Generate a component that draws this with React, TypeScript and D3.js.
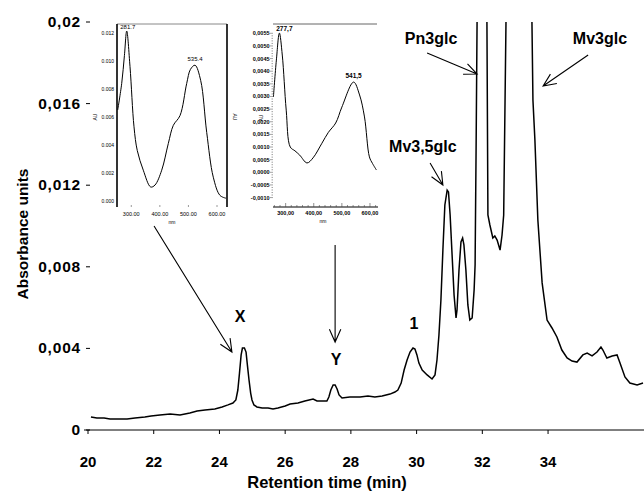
import React from "react";
import * as d3 from "d3";

// chromatogram (retention time in min, absorbance units)
const times = [
  20.09, 20.27, 20.49, 20.67, 20.91, 21.19, 21.43, 21.73, 21.92, 22.19, 22.5, 22.8, 23.1, 23.32,
  23.56, 23.86, 24.08, 24.26, 24.41, 24.5, 24.56, 24.61, 24.66, 24.7, 24.76, 24.81, 24.85, 24.9,
  24.95, 24.99, 25.05, 25.14, 25.3, 25.48, 25.63, 25.78, 26.0, 26.15, 26.39, 26.6, 26.85, 26.97,
  27.12, 27.27, 27.33, 27.39, 27.46, 27.52, 27.58, 27.64, 27.73, 27.97, 28.28, 28.52, 28.73, 28.95,
  29.19, 29.34, 29.43, 29.53, 29.62, 29.71, 29.8, 29.89, 29.95, 30.01, 30.07, 30.17, 30.32, 30.47,
  30.56, 30.62, 30.68, 30.74, 30.8, 30.86, 30.93, 30.97, 31.02, 31.08, 31.14, 31.2, 31.23, 31.29,
  31.35, 31.4, 31.44, 31.5, 31.56, 31.62, 31.69, 31.75, 31.78, 31.81, 31.84, 31.99, 32.14, 32.17,
  32.23, 32.32, 32.38, 32.45, 32.54, 32.6, 32.65, 32.72, 33.12, 33.51, 33.54, 33.6, 33.69, 33.82,
  33.97, 34.12, 34.27, 34.42, 34.58, 34.73, 34.88, 35.06, 35.19, 35.34, 35.49, 35.61, 35.67, 35.79,
  35.95, 36.1, 36.19, 36.34, 36.49, 36.71, 36.89,
];
const absorb = [
  0.00064, 0.00059, 0.00059, 0.00054, 0.00054, 0.00054, 0.00059, 0.00064, 0.00069, 0.00074, 0.00078,
  0.00074, 0.00083, 0.00093, 0.00098, 0.00103, 0.00113, 0.00123, 0.00132, 0.00147, 0.00196, 0.00279,
  0.00368, 0.00402, 0.00402, 0.00382, 0.00319, 0.00245, 0.00181, 0.00147, 0.00123, 0.00113, 0.00108,
  0.00108, 0.00103, 0.00108, 0.00118, 0.00127, 0.00132, 0.00142, 0.00152, 0.00142, 0.00142, 0.00142,
  0.00162, 0.00196, 0.00221, 0.00221, 0.00201, 0.00172, 0.00157, 0.00162, 0.00162, 0.00167, 0.00162,
  0.00167, 0.00176, 0.00186, 0.00196, 0.0023, 0.00294, 0.00343, 0.00382, 0.00402, 0.00397, 0.00368,
  0.00328, 0.00294, 0.0027, 0.0025, 0.0027, 0.00343, 0.00466, 0.00637, 0.00882, 0.01103, 0.01176,
  0.01167, 0.01054, 0.00858, 0.00662, 0.00549, 0.00588, 0.00784, 0.00922, 0.00941, 0.00907, 0.00784,
  0.00613, 0.00539, 0.00549, 0.00686, 0.00809, 0.01373, 0.02, 0.045, 0.02, 0.01054, 0.01005, 0.00941,
  0.00951, 0.00931, 0.00882, 0.00956, 0.01054, 0.02, 0.09, 0.02, 0.01618, 0.01422, 0.01029, 0.00721,
  0.00539, 0.005, 0.00456, 0.00392, 0.00353, 0.00338, 0.00333, 0.00368, 0.00377, 0.00363, 0.00382,
  0.00407, 0.00392, 0.00353, 0.00363, 0.00368, 0.00328, 0.0026, 0.0023, 0.00221, 0.0023,
];
const xTicks = [20, 22, 24, 26, 28, 30, 32, 34];
const yTicks = [0, 0.004, 0.008, 0.012, 0.016, 0.02];
const yTickLabels = ["0", "0,004", "0,008", "0,012", "0,016", "0,02"];

// UV-Vis spectrum of peak X
const spec1Nm = [252.5, 266.5, 276, 284, 295.5, 309.5, 321, 342, 368, 383, 406.5, 429.5, 447, 470.5, 494, 507, 523, 543, 564, 587, 610.5, 631.5];
const spec1Au = [0.0065, 0.0084, 0.0104, 0.01214, 0.0096, 0.0053, 0.0036, 0.0022, 0.001, 0.00114, 0.0022, 0.0041, 0.0054, 0.0061, 0.0084, 0.0094, 0.0097, 0.0086, 0.0049, 0.0017, 0.0004, 0.0002];
const spec1YTicks = [0, 0.002, 0.004, 0.006, 0.008, 0.01, 0.012];
const spec1XTicks = [300, 400, 500, 600];

// UV-Vis spectrum of peak Y
const spec2Nm = [256.5, 267, 277.7, 288, 302, 316.4, 333, 350, 376, 397.4, 429, 452, 478, 500, 541.8, 563, 580.5, 598, 609, 623];
const spec2Au = [0.00298, 0.00444, 0.00551, 0.00464, 0.00246, 0.001, 0.00085, 0.00068, 0.00037, 0.00057, 0.00115, 0.00158, 0.00195, 0.00258, 0.00357, 0.00306, 0.00219, 0.00061, 0.00035, 0.00009];
const spec2YTicks = [-0.001, -0.0005, 0, 0.0005, 0.001, 0.0015, 0.002, 0.0025, 0.003, 0.0035, 0.004, 0.0045, 0.005, 0.0055];
const spec2XTicks = [300, 400, 500, 600];

// annotations in chromatogram units: [tailT, tailV, tipT, tipV]
const arrows = [
  [22.01, 0.01, 24.38, 0.00382],
  [27.52, 0.00907, 27.52, 0.00431],
  [30.41, 0.01309, 30.8, 0.01201],
  [30.32, 0.01848, 31.84, 0.01745],
  [35.22, 0.01838, 33.85, 0.01686],
];
const peakNames = ["X", "Y", "1", "Mv3,5glc", "Pn3glc", "Mv3glc"];
const peakLabelT = [24.63, 27.55, 29.92, 30.19, 30.44, 35.58];
const peakLabelV = [0.00529, 0.00319, 0.00495, 0.01363, 0.01892, 0.01892];

const FONT = "'Liberation Sans', Arial, sans-serif";

function arrowPath(x1: number, y1: number, x2: number, y2: number) {
  const a = Math.atan2(y2 - y1, x2 - x1);
  const L = 14, w = 0.42;
  const p1 = [x2 - L * Math.cos(a - w), y2 - L * Math.sin(a - w)];
  const p2 = [x2 - L * Math.cos(a + w), y2 - L * Math.sin(a + w)];
  return `M${x1},${y1}L${x2},${y2}M${p1[0]},${p1[1]}L${x2},${y2}L${p2[0]},${p2[1]}`;
}

export default function App() {
  const x = d3.scaleLinear().domain([20, 36.92]).range([88, 644]);
  const y = d3.scaleLinear().domain([0, 0.02]).range([430, 22]);
  const line = d3
    .line<number>()
    .x((_, i) => x(times[i]))
    .y((d) => y(d));

  const s1x = d3.scaleLinear().domain([250, 635]).range([117, 227]);
  const s1y = d3.scaleLinear().domain([0, 0.012]).range([201, 33]);
  const s1line = d3
    .line<number>()
    .x((_, i) => s1x(spec1Nm[i]))
    .y((d) => s1y(d))
    .curve(d3.curveCatmullRom);

  const s2x = d3.scaleLinear().domain([255, 625]).range([273, 377]);
  const s2y = d3.scaleLinear().domain([0, 0.0055]).range([172.3, 33.3]);
  const s2line = d3
    .line<number>()
    .x((_, i) => s2x(spec2Nm[i]))
    .y((d) => s2y(d))
    .curve(d3.curveCatmullRom);

  const p1 = spec1Au.indexOf(d3.max(spec1Au.slice(0, 8))!);
  const p1b = spec1Au.indexOf(d3.max(spec1Au.slice(8))!);
  const p2 = spec2Au.indexOf(d3.max(spec2Au.slice(0, 8))!);
  const p2b = spec2Au.indexOf(d3.max(spec2Au.slice(8))!);

  return (
    <svg
      width={644}
      height={491}
      style={{ position: "absolute", left: 0, top: 0, background: "#fff" }}
      fontFamily={FONT}
    >
      <defs>
        <clipPath id="plot">
          <rect x={0} y={y(0.02)} width={644} height={491} />
        </clipPath>
      </defs>

      {/* x axis */}
      <line x1={84} x2={644} y1={y(0)} y2={y(0)} stroke="#000" strokeWidth={1} />
      {xTicks.map((t) => (
        <g key={t}>
          <line x1={x(t)} x2={x(t)} y1={y(0)} y2={y(0) + 4} stroke="#000" />
          <text x={x(t)} y={467} textAnchor="middle" fontSize={15} fontWeight="bold">
            {t}
          </text>
        </g>
      ))}
      <text x={327} y={488} textAnchor="middle" fontSize={16.5} fontWeight="bold">
        Retention time (min)
      </text>

      {/* y axis */}
      {yTicks.map((v, i) => (
        <g key={v}>
          <line x1={86} x2={90} y1={y(v)} y2={y(v)} stroke="#000" />
          <text
            x={81}
            y={y(v) + 5}
            textAnchor="end"
            fontSize={15.5}
            fontWeight="bold"
            letterSpacing={0.8}
          >
            {yTickLabels[i]}
          </text>
        </g>
      ))}
      <text
        transform="translate(28,234) rotate(-90)"
        textAnchor="middle"
        fontSize={15.5}
        fontWeight="bold"
      >
        Absorbance units
      </text>

      {/* chromatogram */}
      <path d={line(absorb)!} fill="none" stroke="#000" strokeWidth={1.5} clipPath="url(#plot)" />

      {/* annotations */}
      {arrows.map((a, i) => (
        <path
          key={i}
          d={arrowPath(x(a[0]), y(a[1]), x(a[2]), y(a[3]))}
          fill="none"
          stroke="#000"
          strokeWidth={1.1}
        />
      ))}
      {peakNames.map((n, i) => (
        <text
          key={n}
          x={x(peakLabelT[i])}
          y={y(peakLabelV[i])}
          textAnchor="middle"
          fontSize={16}
          fontWeight="bold"
        >
          {n}
        </text>
      ))}

      {/* inset 1: spectrum of X */}
      <line x1={117} x2={227} y1={24} y2={24} stroke="#888" strokeWidth={1} />
      <line x1={117} x2={117} y1={24} y2={207} stroke="#000" strokeWidth={1.6} />
      <line x1={227} x2={227} y1={24} y2={207} stroke="#000" strokeWidth={1.6} />
      {spec1YTicks.map((v) => (
        <text key={v} x={114} y={s1y(v) + 2} textAnchor="end" fontSize={5}>
          {v.toFixed(3)}
        </text>
      ))}
      {spec1XTicks.map((t) => (
        <g key={t}>
          <line x1={s1x(t)} x2={s1x(t)} y1={205} y2={207} stroke="#555" strokeWidth={0.6} />
          <text x={s1x(t)} y={216} textAnchor="middle" fontSize={5.5}>
            {t.toFixed(2)}
          </text>
        </g>
      ))}
      <text x={172} y={224} textAnchor="middle" fontSize={5}>
        nm
      </text>
      <text transform="translate(97,117) rotate(-90)" textAnchor="middle" fontSize={5}>
        AU
      </text>
      <text transform="translate(233,117) rotate(90)" textAnchor="middle" fontSize={5}>
        AU
      </text>
      <path d={s1line(spec1Au)!} fill="none" stroke="#000" strokeWidth={1} />
      <text x={s1x(spec1Nm[p1]) + 1} y={s1y(spec1Au[p1]) - 2} textAnchor="middle" fontSize={6}>
        281.7
      </text>
      <text x={s1x(spec1Nm[p1b])} y={s1y(spec1Au[p1b]) - 4} textAnchor="middle" fontSize={6}>
        535.4
      </text>

      {/* inset 2: spectrum of Y */}
      <line x1={273} x2={377} y1={24} y2={24} stroke="#666" strokeWidth={1} />
      <line x1={273} x2={378} y1={207} y2={207} stroke="#000" strokeWidth={1} />
      {d3.range(-10, 56).map((k) => (
        <line
          key={k}
          x1={k % 5 === 0 ? 270 : 271.5}
          x2={273}
          y1={s2y(k * 0.0001)}
          y2={s2y(k * 0.0001)}
          stroke="#444"
          strokeWidth={0.5}
        />
      ))}
      {spec2YTicks.map((v) => (
        <text key={v} x={269.5} y={s2y(v) + 2} textAnchor="end" fontSize={5.5} fontWeight="bold">
          {v.toFixed(4).replace(".", ",").replace("-0,0000", "0,0000")}
        </text>
      ))}
      {d3.range(260, 630, 20).map((t) => (
        <line key={t} x1={s2x(t)} x2={s2x(t)} y1={207} y2={t % 100 === 0 ? 203 : 205} stroke="#444" strokeWidth={0.6} />
      ))}
      {spec2XTicks.map((t) => (
        <text key={t} x={s2x(t)} y={215} textAnchor="middle" fontSize={5.5} fontWeight="bold">
          {t.toFixed(2).replace(".", ",")}
        </text>
      ))}
      <text x={323} y={223} textAnchor="middle" fontSize={5}>
        nm
      </text>
      <text transform="translate(263,118) rotate(-90)" textAnchor="middle" fontSize={5}>
        AU
      </text>
      <path d={s2line(spec2Au)!} fill="none" stroke="#000" strokeWidth={1} />
      <text x={s2x(spec2Nm[p2]) + 5} y={s2y(spec2Au[p2]) - 2} textAnchor="middle" fontSize={6.5} fontWeight="bold">
        277,7
      </text>
      <text x={s2x(spec2Nm[p2b])} y={s2y(spec2Au[p2b]) - 4} textAnchor="middle" fontSize={6.5} fontWeight="bold">
        541,5
      </text>
    </svg>
  );
}
